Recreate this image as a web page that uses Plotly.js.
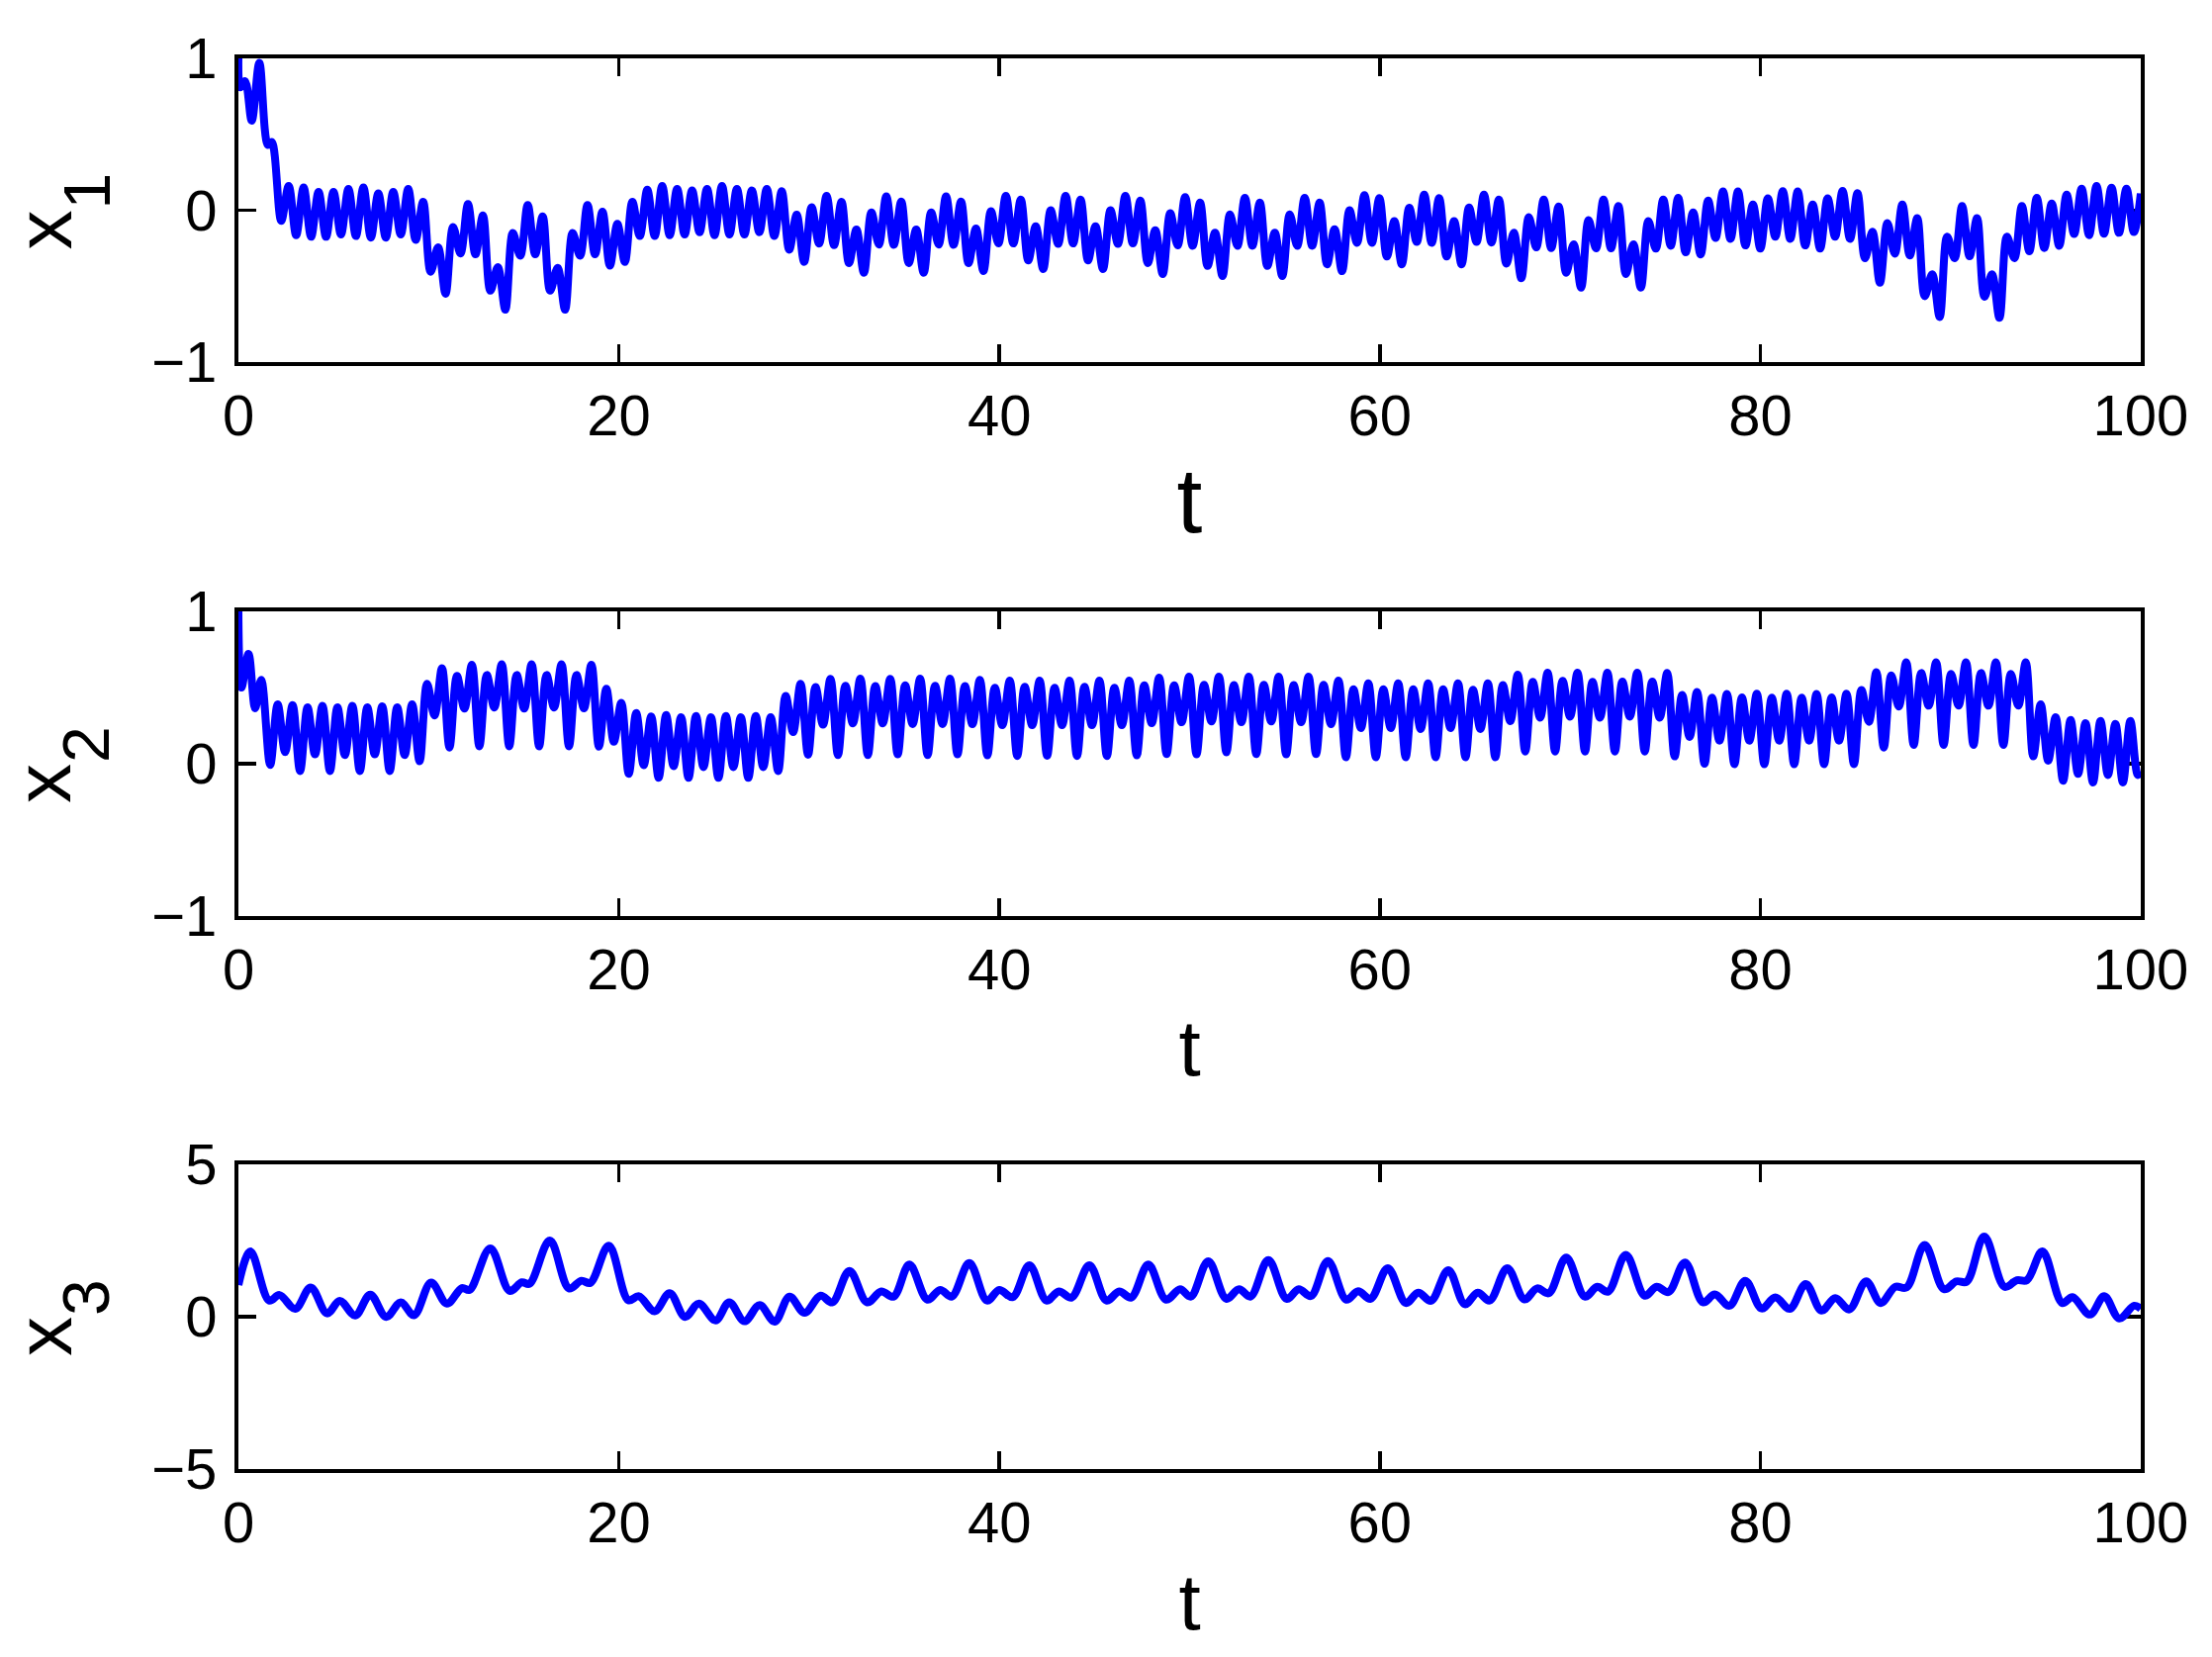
<!DOCTYPE html>
<html>
<head>
<meta charset="utf-8">
<script src="https://cdn.plot.ly/plotly-3.0.1.min.js"></script>
<style>html,body{margin:0;padding:0;background:#fff}</style>
</head>
<body>
<div id="chart" style="width:2236px;height:1675px"></div>
<script>
// x1(t): transient samples, then successive trough / crest readings
const x1HeadT = [0, 0.1, 0.35, 0.7, 1.1, 1.55, 1.75];
const x1HeadV = [1, 0.81, 0.85, 0.59, 0.97, 0.43, 0.45];
const x1Start = 2.25, x1Step = 0.3927;
const x1Vals = [
-.07,.16,-.165,.15,-.175,.12,-.175,.12,-.16,.14,-.17,.15,-.18,.11,-.18,.12,-.16,.14,-.195,.055,
-.405,-.245,-.55,-.11,-.285,.04,-.29,-.035,-.53,-.375,-.655,-.15,-.30,.035,-.29,-.04,-.53,-.38,-.655,-.15,
-.30,.035,-.29,-.01,-.365,-.09,-.34,.055,-.17,.135,-.17,.16,-.165,.14,-.16,.13,-.145,.14,-.165,.16,
-.16,.14,-.16,.13,-.145,.14,-.17,.125,-.26,-.03,-.34,.02,-.22,.095,-.23,.055,
-.348,-.127,-.412,-.014,-.226,.091,-.228,.057,-.348,-.127,-.412,-.014,-.226,.091,-.228,.057,
-.348,-.121,-.401,-.007,-.219,.095,-.219,.07,-.33,-.106,-.388,0,-.221,.095,-.219,.07,
-.33,-.106,-.388,0,-.221,.095,-.219,.063,-.348,-.132,-.42,-.02,-.232,.087,-.234,.05,
-.367,-.149,-.433,-.027,-.234,.082,-.234,.05,-.367,-.149,-.433,-.027,-.234,.082,-.234,.05,
-.356,-.125,-.401,0,-.215,.099,-.215,.08,-.305,-.072,-.356,.016,-.209,.102,-.215,.08,
-.305,-.072,-.356,.018,-.209,.102,
-.213,.07,-.352,-.149,-.448,-.046,-.245,.07,-.249,.025,-.412,-.224,-.51,-.065,-.251,.07,
-.251,.027,-.42,-.224,-.51,-.072,-.253,.07,-.234,.082,-.277,-.014,-.292,.063,-.183,.123,
-.189,.123,-.232,.037,-.253,.078,-.174,.125,-.189,.123,-.232,.037,-.253,.078,-.174,.127,
-.189,.112,-.316,-.142,-.478,-.084,-.286,.037,-.298,-.052,-.566,-.422,-.703,-.174,-.316,.027,
-.303,-.052,-.57,-.422,-.709,-.174,-.316,.027,-.271,.082,-.249,.044,-.234,.102,-.157,.142,
-.164,.159,-.155,.149,-.149,.142,-.144];
const x1TailT = [100];
const x1TailV = [0.11];

// x2(t): transient samples, then successive trough / crest readings
const x2HeadT = [0, 0.16, 0.53, 0.88, 1.2];
const x2HeadV = [1, 0.5, 0.72, 0.364, 0.55];
const x2Start = 1.67, x2Step = 0.3927;
const x2Vals = [
-.008,.39,.076,.385,-.048,.37,.061,.38,-.048,.37,.057,.38,-.048,.37,.061,.377,
-.048,.37,.057,.39,.016,.525,.317,.627,.106,.576,.362,.65,.114,.582,.369,.653,
.114,.582,.362,.653,.114,.582,.369,.653,.114,.582,.364,.65,.112,.492,.144,.4,
-.067,.332,-.01,.31,-.093,.319,-.016,.306,-.093,.313,-.022,.306,-.093,.313,-.022,.306,
-.093,.313,-.022,.306,-.048,.445,.208,.525,.059,.503,.256,.557,.057,.512,.265,.559,
.057,.51,.265,.557,
.061,.514,.26,.558,.057,.512,.26,.558,.061,.51,.26,.55,.055,.499,.253,.545,
.051,.505,.253,.545,.052,.498,.253,.545,.051,.505,.253,.545,.051,.498,.253,.545,
.055,.514,.266,.565,.063,.514,.272,.572,.061,.518,.277,.572,.074,.516,.272,.572,
.063,.518,.277,.572,.061,.516,.272,.572,.063,.518,.26,.546,.042,.488,.234,.527,
.042,.488,.234,.527,.042,.488,.228,.527,.042,.488,.234,.527,.042,.486,.228,.527,
.042,.516,.279,.584,.08,
.537,.302,.597,.08,.544,.309,.597,.08,.537,.302,.597,.08,.539,.309,.597,.08,
.539,.302,.595,.048,.452,.176,.471,0,.433,.151,.458,-.003,.435,.151,.46,-.003,
.433,.151,.46,-.003,.433,.151,.458,-.003,.435,.151,.46,-.003,.484,.275,.601,.106,
.58,.375,.666,.123,.595,.381,.666,.123,.589,.381,.666,.123,.595,.381,.666,.123,
.589,.381,.666,.048,.39,.02,.306,-.112,.287,-.067,.266,-.123,.281,-.074,.262,-.123,
.281,-.074];
const x2TailT = [100];
const x2TailV = [-0.05];

// x3(t): turning points
const x3T = [0,.63,1.62,2.16,2.99,3.8,4.66,5.33,6.14,6.93,7.77,8.53,9.23,10.13,10.96,11.75,12.15,13.24,14.26,14.9,15.3,16.37,17.38,18.03,18.5,19.47,20.5,21.05,21.88,22.67,23.48,24.2,25.08,25.8,26.6,27.4,28.19,28.97,29.76,30.6,31.22,32.12,33.05,33.79,34.44,35.27,36.22,36.89,37.5,38.42,39.35,40,40.7,41.58,42.48,43.13,43.8,44.73,45.63,46.3,46.93,47.83,48.76,49.5,50.06,50.98,51.93,52.6,53.2,54.14,55.1,55.74,56.38,57.27,58.24,58.86,59.51,60.42,61.37,62.02,62.69,63.6,64.47,65.15,65.77,66.7,67.6,68.27,68.88,69.8,70.78,71.43,72,72.93,73.93,74.55,75.18,76.04,76.99,77.61,78.38,79.21,80.07,80.79,81.55,82.39,83.22,83.94,84.68,85.56,86.33,87.09,87.69,88.64,89.66,90.31,90.85,91.77,92.84,93.49,94.02,94.83,95.87,96.41,97.33,98.08,98.87,99.65,100];
const x3V = [1.04,2.14,.53,.71,.26,.96,.11,.52,.04,.72,-.01,.47,.05,1.12,.43,.94,.88,2.24,.85,1.13,1.08,2.5,.93,1.18,1.11,2.33,.54,.67,.18,.77,-.01,.43,-.12,.47,-.15,.38,-.16,.66,.13,.69,.47,1.5,.47,.83,.66,1.71,.56,.88,.66,1.76,.53,.88,.64,1.69,.53,.83,.63,1.69,.53,.83,.63,1.71,.56,.9,.66,1.82,.59,.9,.66,1.86,.59,.9,.68,1.83,.56,.84,.59,1.59,.45,.79,.52,1.53,.41,.79,.53,1.59,.57,.93,.77,1.94,.66,.98,.82,2.03,.69,.98,.81,1.78,.47,.73,.36,1.18,.27,.63,.26,1.07,.2,.61,.24,1.16,.45,.98,.96,2.35,.9,1.16,1.15,2.63,.98,1.2,1.2,2.14,.45,.64,.07,.67,-.06,.36,.26];

const xTicks = [0, 20, 40, 60, 80, 100];
const xTickLabels = ['0', '20', '40', '60', '80', '100'];
const y12Ticks = [-1, 0, 1];
const y3Ticks = [-5, 0, 5];
const xRange = [0, 100];
const y12Range = [-1, 1];
const y3Range = [-5, 5];
const xTitle = 't';
const yNames = ['x', 'x', 'x'];
const ySubs = ['1', '2', '3'];

const W = 2236, H = 1675;
const plotL = 241, plotR = 2164;
const plotTB = [[59, 366], [618, 926], [1177, 1485]];
const tFont = [93, 80, 80];
const tStandoff = [23, 21, 22];

const font = 'Liberation Sans, Arial, Helvetica, sans-serif';
const t1 = x1HeadT.concat(x1Vals.map((_, i) => x1Start + i * x1Step), x1TailT);
const v1 = x1HeadV.concat(x1Vals, x1TailV);
const t2 = x2HeadT.concat(x2Vals.map((_, i) => x2Start + i * x2Step), x2TailT);
const v2 = x2HeadV.concat(x2Vals, x2TailV);

function trace(t, v, n) {
  return {
    x: t, y: v, type: 'scatter', mode: 'lines',
    xaxis: 'x' + (n === 1 ? '' : n), yaxis: 'y' + (n === 1 ? '' : n),
    line: {color: '#0000ff', width: 8, shape: 'spline', smoothing: 1},
    showlegend: false, hoverinfo: 'skip'
  };
}
function axBase() {
  return {
    showline: true, linecolor: '#000', linewidth: 4, mirror: 'allticks',
    ticks: 'inside', ticklen: 18, tickwidth: 3.6, tickcolor: '#000',
    showgrid: false, zeroline: false, layer: 'below traces',
    tickfont: {family: font, size: 58, color: '#000'}
  };
}
const layout = {
  width: W, height: H, margin: {l: 0, r: 0, t: 0, b: 0},
  paper_bgcolor: '#fff', plot_bgcolor: '#fff', showlegend: false,
  annotations: []
};
plotTB.forEach((tb, i) => {
  const s = i === 0 ? '' : String(i + 1);
  const yr = i === 2 ? y3Range : y12Range;
  const yt = i === 2 ? y3Ticks : y12Ticks;
  layout['xaxis' + s] = Object.assign(axBase(), {
    domain: [plotL / W, plotR / W], range: xRange, anchor: 'y' + s,
    tickmode: 'array', tickvals: xTicks, ticktext: xTickLabels,
    ticklabelstandoff: 0,
    title: {text: xTitle, font: {family: font, size: tFont[i], color: '#000'}, standoff: tStandoff[i]}
  });
  layout['yaxis' + s] = Object.assign(axBase(), {
    domain: [1 - tb[1] / H, 1 - tb[0] / H], range: yr, anchor: 'x' + s,
    tickmode: 'array', tickvals: yt, ticktext: yt.map(v => v < 0 ? '\u2212' + (-v) : String(v)),
    ticklabelstandoff: 6
  });
  const cy = (tb[0] + tb[1]) / 2;
  layout.annotations.push({
    xref: 'paper', yref: 'paper', x: 44 / W, y: 1 - (cy + 20) / H,
    xanchor: 'center', yanchor: 'middle', showarrow: false, textangle: -90,
    text: yNames[i], font: {family: font, size: 80, color: '#000'}
  });
  layout.annotations.push({
    xref: 'paper', yref: 'paper', x: 87 / W, y: 1 - (cy - 19) / H,
    xanchor: 'center', yanchor: 'middle', showarrow: false, textangle: -90,
    text: ySubs[i], font: {family: font, size: 66, color: '#000'}
  });
});
Plotly.newPlot('chart', [trace(t1, v1, 1), trace(t2, v2, 2), trace(x3T, x3V, 3)], layout, {displayModeBar: false, staticPlot: true});
</script>
</body>
</html>
